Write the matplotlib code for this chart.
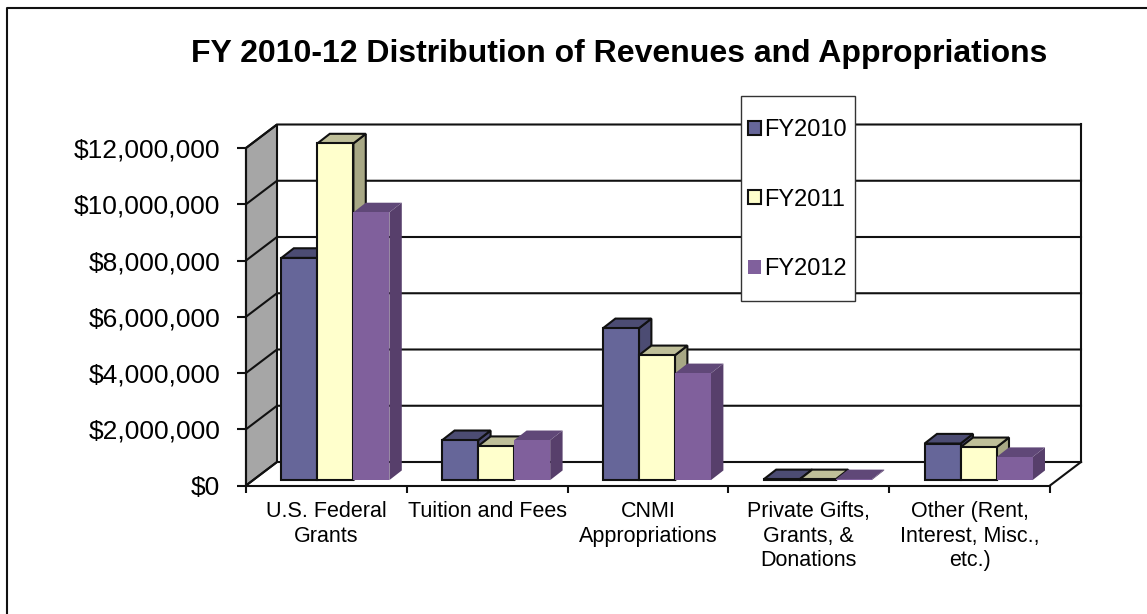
"""FY 2010-12 revenues and appropriations, faked 3D column chart."""
import matplotlib
matplotlib.use("Agg")
import matplotlib.pyplot as plt
from matplotlib.lines import Line2D
from matplotlib.patches import Patch, Rectangle

categories = [
    "U.S. Federal\nGrants",
    "Tuition and Fees",
    "CNMI\nAppropriations",
    "Private Gifts,\nGrants, &\nDonations",
    "Other (Rent,\nInterest, Misc.,\netc.)",
]
series_names = ["FY2010", "FY2011", "FY2012"]
fy2010 = [7900000, 1420000, 5400000, 30000, 1300000]
fy2011 = [11970000, 1210000, 4440000, 30000, 1170000]
fy2012 = [9520000, 1420000, 3800000, 30000, 820000]
y_ticks = [0, 2000000, 4000000, 6000000, 8000000, 10000000, 12000000]

front_colors = ["#666699", "#ffffcc", "#80609c"]
top_colors = ["#4c4c73", "#bfbf99", "#604878"]
side_colors = ["#4c4c73", "#a8a885", "#573f6b"]
edge_colors = ["#111111", "#111111", "none"]
LINE = "#111111"

plt.rcParams["font.family"] = ["Liberation Sans", "DejaVu Sans"]

W, H = 1147, 614
fig = plt.figure(figsize=(W / 100, H / 100), dpi=100, facecolor="white")
ax = fig.add_axes([246 / W, 1 - 485.5 / H, 804 / W, 337.5 / H])
ax.set_xlim(0, 5)
ax.set_ylim(0, 12000000)
ax.patch.set_visible(False)

# the depth of the box, in data units
depth_x = 31 / 804 * 5
depth_y = 23.5 / 337.5 * 12000000

# side wall and back wall
ax.fill(
    [0, depth_x, depth_x, 0],
    [0, depth_y, 12000000 + depth_y, 12000000],
    facecolor="#a6a6a6", edgecolor=LINE, lw=1.5, clip_on=False, zorder=1,
)
for tick in y_ticks:
    ax.plot([0, depth_x, 5 + depth_x], [tick, tick + depth_y, tick + depth_y],
            color=LINE, lw=1.5, clip_on=False, zorder=1.5)
ax.plot([5 + depth_x, 5 + depth_x], [depth_y, 12000000 + depth_y],
        color=LINE, lw=1.5, clip_on=False, zorder=1.5)
ax.plot([5, 5 + depth_x], [0, depth_y], color=LINE, lw=1.5, clip_on=False, zorder=1.5)

# columns
bar_w = 36 / 804 * 5
shift_x = depth_x * 0.29
base_y = depth_y * 0.23
bar_dx = depth_x * 0.4
bar_dy = depth_y * 0.41
for i in range(len(categories)):
    center = i + 0.5 + shift_x
    for j, values in enumerate([fy2010, fy2011, fy2012]):
        left = center + (j - 1.5) * bar_w
        top = base_y + values[i]
        right = left + bar_w
        kw = dict(edgecolor=edge_colors[j], lw=1.5, clip_on=False, zorder=3, joinstyle="miter")
        if edge_colors[j] == "none":
            kw["lw"] = 0
        ax.fill([right, right + bar_dx, right + bar_dx, right],
                [base_y, base_y + bar_dy, top + bar_dy, top],
                facecolor=side_colors[j], **kw)
        ax.fill([left, left + bar_dx, right + bar_dx, right],
                [top, top + bar_dy, top + bar_dy, top],
                facecolor=top_colors[j], **kw)
        ax.bar(left, values[i], bar_w, bottom=base_y, align="edge",
               color=front_colors[j], clip_on=False, zorder=3, **{k: kw[k] for k in ("edgecolor", "lw")})

for side in ["top", "right"]:
    ax.spines[side].set_visible(False)
for side in ["left", "bottom"]:
    ax.spines[side].set_linewidth(1.5)
    ax.spines[side].set_color(LINE)
    ax.spines[side].set_zorder(2)

ax.set_yticks(y_ticks)
ax.set_yticklabels([f"${t:,}" for t in y_ticks], fontsize=19)
ax.tick_params(axis="y", length=6.5, width=1.5, color=LINE, pad=12)
ax.set_xticks(range(6))
ax.set_xticklabels([])
ax.tick_params(axis="x", which="major", length=5, width=1.5, color=LINE)
ax.set_xticks([i + 0.5 for i in range(5)], categories, minor=True, fontsize=15.5)
ax.tick_params(axis="x", which="minor", length=0, pad=11.5)
for lab in ax.get_xticklabels(minor=True):
    lab.set_linespacing(1.2)
    lab.set_verticalalignment("top")

fig.text(619 / W, 1 - 54 / H, "FY 2010-12 Distribution of Revenues and Appropriations",
         ha="center", va="center", fontsize=23, fontweight="bold", color="black")

# legend box is its own rectangle, padding differs per side in the original
fig.add_artist(Rectangle((741 / W, 1 - 301 / H), 114 / W, 205 / H, transform=fig.transFigure,
                         facecolor="white", edgecolor="#333333", lw=1, zorder=8))
handles = [Patch(facecolor=front_colors[k], edgecolor=edge_colors[k], lw=1.5)
           for k in range(3)]
leg = fig.legend(handles, series_names, loc="upper left",
                 bbox_to_anchor=(748 / W, 1 - 119 / H), bbox_transform=fig.transFigure,
                 fontsize=17, frameon=False, borderaxespad=0, handlelength=0.55,
                 handleheight=0.55, handletextpad=0.12, labelspacing=2.02,
                 borderpad=0)
leg.set_zorder(10)

# outer frame of the picture
fig.add_artist(Line2D([7 / W, 7 / W, 1], [0, 1 - 8 / H, 1 - 8 / H], color="#111111", lw=1.5))

fig.savefig("out.png", dpi=100)
